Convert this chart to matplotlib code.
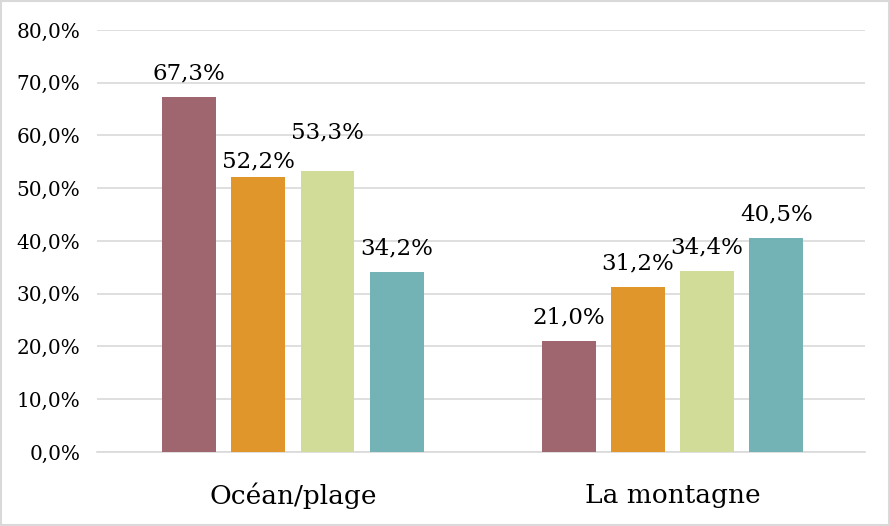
import numpy
from matplotlib import pyplot
from matplotlib.patches import Rectangle

categories = ["Océan/plage", "La montagne"]
series_values = [
    [67.3, 21.0],
    [52.2, 31.2],
    [53.3, 34.4],
    [34.2, 40.5],
]
colors = ["#A0666F", "#E0962A", "#D1DC98", "#73B3B5"]
y_ticks = [0, 10, 20, 30, 40, 50, 60, 70, 80]


def fmt(value):
    return f"{value:.1f}%".replace(".", ",")


def main():
    pyplot.rcParams["font.family"] = ["DejaVu Serif"]
    figure = pyplot.figure(figsize=(8.9, 5.26), dpi=100)
    axis = figure.add_axes([0.109, 0.1407, 0.863, 0.8023])

    x = numpy.arange(len(categories))
    width = 0.142
    step = 0.182
    for i, values in enumerate(series_values):
        offset = (i - 1.5) * step
        bars = axis.bar(x + offset, values, width, color=colors[i], zorder=3)
        texts = axis.bar_label(
            bars, labels=[fmt(v) for v in values], padding=9, fontsize=16.5
        )
        # Excel nudges overlapping labels in the first group
        if i == 1:
            texts[0].set_y(texts[0].get_position()[1] - 6)
        if i == 2:
            texts[0].set_y(texts[0].get_position()[1] + 11)

    axis.set_xlim(-0.516, 1.507)
    axis.set_ylim(0, 80)
    axis.set_yticks(y_ticks)
    axis.set_yticklabels([fmt(v) for v in y_ticks], fontsize=14.4)
    axis.set_xticks(x)
    axis.set_xticklabels(categories, fontsize=19)
    axis.tick_params(axis="both", length=0)
    axis.tick_params(axis="x", pad=22)
    axis.tick_params(axis="y", pad=12)
    axis.grid(axis="y", color="#D9D9D9", linewidth=1.2, zorder=0)
    for side in ["top", "right", "left"]:
        axis.spines[side].set_visible(False)
    axis.spines["bottom"].set_color("#D9D9D9")
    axis.spines["bottom"].set_linewidth(1.2)

    figure.patches.append(
        Rectangle((0.001, 0.001), 0.998, 0.997, transform=figure.transFigure,
                  fill=False, edgecolor="#D9D9D9", linewidth=1.5)
    )

    figure.savefig("out.png")


if __name__ == "__main__":
    main()
